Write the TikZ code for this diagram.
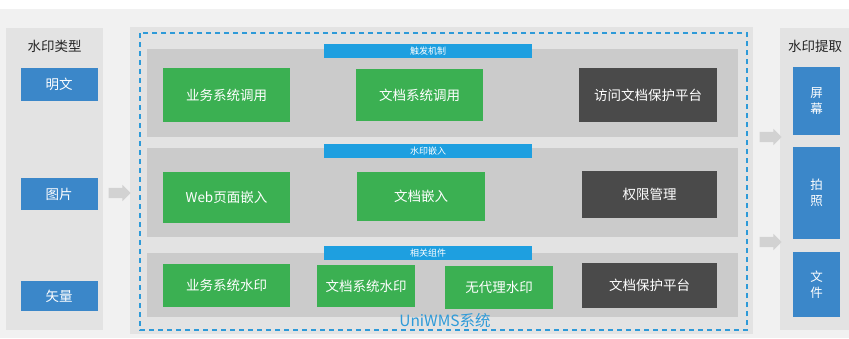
\documentclass[tikz,border=0pt]{standalone}
\usepackage{fontspec}
\setmainfont{Noto Sans CJK SC}
\usetikzlibrary{shapes.arrows}

\definecolor{bgc}{HTML}{F1F1F1}
\definecolor{panelc}{HTML}{E3E3E3}
\definecolor{rowc}{HTML}{CBCBCB}
\definecolor{boxblue}{HTML}{3B87C9}
\definecolor{tagblue}{HTML}{1E9FE0}
\definecolor{boxgreen}{HTML}{3BB052}
\definecolor{boxdark}{HTML}{4A4A4A}
\definecolor{dashblue}{HTML}{2E9AD8}
\definecolor{arrowc}{HTML}{D2D2D2}

\begin{document}
\begin{tikzpicture}[x=1pt,y=-1pt,
    box/.style={draw=none, text=white, inner sep=0pt, font=\fontsize{13.5}{15}\selectfont},
    bluebox/.style={box, fill=boxblue},
    greenbox/.style={box, fill=boxgreen},
    darkbox/.style={box, fill=boxdark},
    tag/.style={fill=tagblue, text=white, inner sep=0pt, minimum width=208, minimum height=14,
        font=\fontsize{9}{9}\selectfont},
    title/.style={text=black!85, font=\fontsize{13.5}{15}\selectfont},
    blockarrow/.style={single arrow, fill=arrowc, draw=none, minimum height=22,
        single arrow head extend=3, single arrow tip angle=90, inner sep=5pt}]
    \useasboundingbox (0,0) rectangle (849,338);
    \fill[white] (0,0) rectangle (849,338);
    \fill[bgc] (0,9) rectangle (849,338);

    % left panel
    \fill[panelc] (6,28) rectangle (103,330);
    \node[title] (typetitle) at (54.5,46) {水印类型};
    \node[bluebox, minimum width=77, minimum height=33] (plain) at (59,84.5) {明文};
    \node[bluebox, minimum width=77, minimum height=32] (image) at (59,194) {图片};
    \node[bluebox, minimum width=77, minimum height=30] (vector) at (59,296) {矢量};

    % middle panel
    \fill[panelc] (130,27) rectangle (753,334);
    \draw[dashblue, line width=1.6pt, dash pattern=on 5pt off 4pt] (140,33) rectangle (747,330);
    \fill[rowc] (147,49) rectangle (738,137);
    \fill[rowc] (147,148) rectangle (738,237);
    \fill[rowc] (147,253) rectangle (738,317);

    \node[tag] (trigger) at (428,51) {触发机制};
    \node[tag] (embed) at (428,151) {水印嵌入};
    \node[tag] (parts) at (428,253) {相关组件};

    % row 1
    \node[greenbox, minimum width=127, minimum height=54] (bizcall) at (226.5,95) {业务系统调用};
    \node[greenbox, minimum width=127, minimum height=52] (doccall) at (419.5,95) {文档系统调用};
    \node[darkbox, minimum width=138, minimum height=54] (access) at (648,95) {访问文档保护平台};

    % row 2
    \node[greenbox, minimum width=127, minimum height=51] (web) at (226.5,197.5) {Web页面嵌入};
    \node[greenbox, minimum width=128, minimum height=49] (docembed) at (421,196.5) {文档嵌入};
    \node[darkbox, minimum width=135, minimum height=47] (rights) at (649.5,194.5) {权限管理};

    % row 3
    \node[greenbox, minimum width=127, minimum height=43] (bizmark) at (226.5,285.5) {业务系统水印};
    \node[greenbox, minimum width=98, minimum height=42] (docmark) at (366,286) {文档系统水印};
    \node[greenbox, minimum width=108, minimum height=43] (agentless) at (499,287.5) {无代理水印};
    \node[darkbox, minimum width=135, minimum height=45] (protect) at (649.5,285.5) {文档保护平台};

    \node[text=dashblue, inner sep=0pt, font=\fontsize{15.5}{17}\selectfont] (uniwms) at (445,321) {UniWMS系统};

    % right panel
    \fill[panelc] (780,28) rectangle (849,330);
    \node[title] (extracttitle) at (815,46) {水印提取};
    \node[bluebox, minimum width=47, minimum height=68, align=center,
        font=\fontsize{12.5}{16}\selectfont] (screen) at (816.5,101) {屏\\幕};
    \node[bluebox, minimum width=47, minimum height=92, align=center,
        font=\fontsize{12.5}{16}\selectfont] (photo) at (816.5,193) {拍\\照};
    \node[bluebox, minimum width=47, minimum height=65, align=center,
        font=\fontsize{12.5}{16}\selectfont] (file) at (816.5,284.5) {文\\件};

    % arrows
    \node[blockarrow] (inarrow) at (117,193) {};
    \node[blockarrow] (outarrow1) at (768,137) {};
    \node[blockarrow] (outarrow2) at (768,242) {};
\end{tikzpicture}
\end{document}
